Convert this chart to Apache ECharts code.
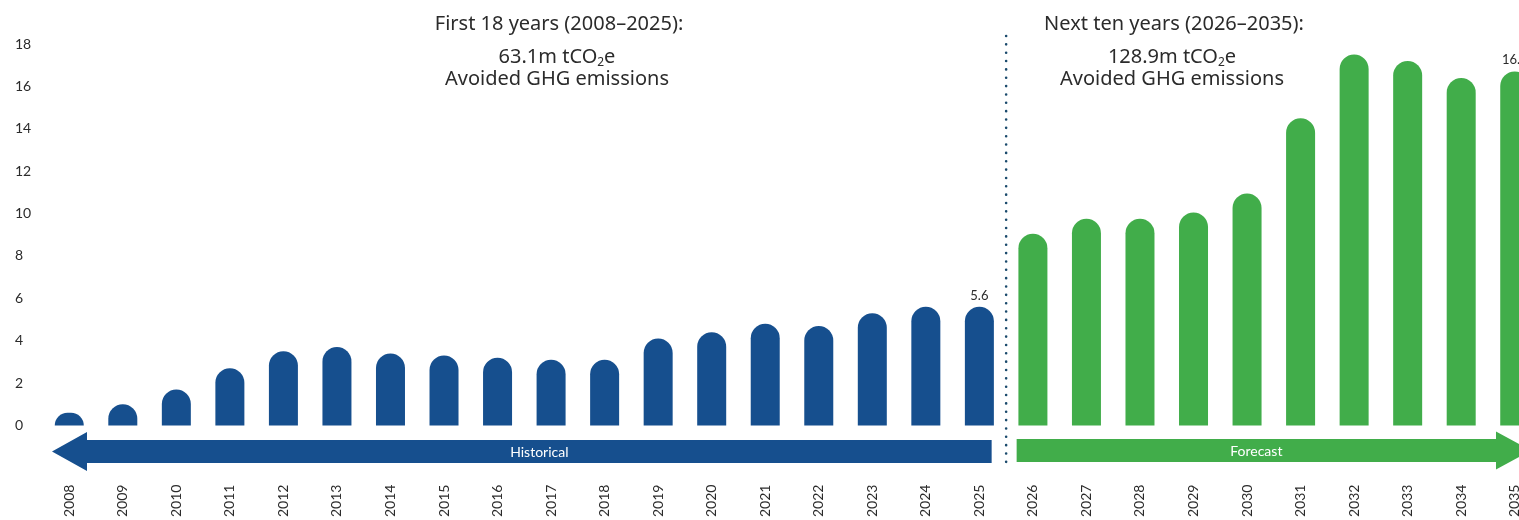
<!DOCTYPE html>
<html>
<head>
<meta charset="utf-8">
<script src="https://cdn.jsdelivr.net/npm/echarts@6/dist/echarts.min.js"></script>
<style>
  html, body { margin: 0; padding: 0; background: #fff; overflow: hidden; }
  #chart { width: 1560px; height: 520px; }
</style>
</head>
<body>
<div id="chart"></div>
<script>
// Avoided GHG emissions per year (m tCO2e)
const histYears = ['2008','2009','2010','2011','2012','2013','2014','2015','2016','2017','2018','2019','2020','2021','2022','2023','2024','2025'];
const histValues = [0.6, 1.0, 1.7, 2.7, 3.5, 3.7, 3.4, 3.3, 3.2, 3.1, 3.1, 4.1, 4.4, 4.8, 4.7, 5.3, 5.6, 5.6];
const foreYears = ['2026','2027','2028','2029','2030','2031','2032','2033','2034','2035'];
const foreValues = [9.05, 9.75, 9.75, 10.05, 10.95, 14.5, 17.5, 17.2, 16.4, 16.7];
const yTicks = [0, 2, 4, 6, 8, 10, 12, 14, 16, 18];
const labelledYears = ['2025', '2035'];

const BLUE = '#164f8e';
const GREEN = '#41ad4a';
const TEXT = '#2b2b2b';
const FONT = 'Lato, "Noto Sans", sans-serif';
const HEAD_FONT = '"Noto Sans", Lato, sans-serif';
const HEAD_SIZE = 20;

const years = histYears.concat(foreYears);
const barData = years.map((y, i) => {
  const isHist = i < histYears.length;
  const v = isHist ? histValues[i] : foreValues[i - histYears.length];
  return {
    value: v,
    itemStyle: { color: isHist ? BLUE : GREEN },
    label: { show: labelledYears.includes(y) }
  };
});

const chart = echarts.init(document.getElementById('chart'), null, { renderer: 'canvas' });

chart.setOption({
  animation: false,
  backgroundColor: '#fff',
  grid: { left: 42.5, top: 44, width: 1499, bottom: 93, containLabel: false },
  xAxis: {
    type: 'category',
    data: years,
    axisLine: { show: false },
    axisTick: { show: false },
    axisLabel: {
      rotate: 90, margin: 59, interval: 0,
      fontSize: 14, fontFamily: FONT, color: TEXT
    }
  },
  yAxis: {
    type: 'value',
    min: yTicks[0], max: yTicks[yTicks.length - 1], interval: yTicks[1] - yTicks[0],
    splitLine: { show: false },
    axisLine: { show: false },
    axisTick: { show: false },
    axisLabel: {
      align: 'left', margin: 27.5, padding: [0, 0, 8, 0],
      fontSize: 14, fontFamily: FONT, color: TEXT
    }
  },
  series: [{
    type: 'bar',
    data: barData,
    barWidth: 29,
    itemStyle: { borderRadius: [14.5, 14.5, 0, 0] },
    label: {
      position: 'top', distance: 5,
      fontSize: 13, fontFamily: FONT, color: TEXT
    }
  }]
});

// Decorations placed from the category scale
const px = (cat) => chart.convertToPixel({ xAxisIndex: 0 }, cat);
const band = px(years[1]) - px(years[0]);
const leftEdge = px(years[0]) - band / 2;
const splitX = (px(histYears[histYears.length - 1]) + px(foreYears[0])) / 2;
const rightEdge = px(years[years.length - 1]) + band / 2;

const HEAD_LEN = 35;

function arrowLeft(x0, x1, cy) {
  // tip on the left
  return [[x0, cy], [x0 + HEAD_LEN, cy - 19.5], [x0 + HEAD_LEN, cy - 11.5], [x1, cy - 11.5],
          [x1, cy + 11.5], [x0 + HEAD_LEN, cy + 11.5], [x0 + HEAD_LEN, cy + 19.5]];
}
function arrowRight(x0, x1, cy) {
  // tip on the right
  return [[x1, cy], [x1 - HEAD_LEN, cy - 19], [x1 - HEAD_LEN, cy - 11.5], [x0, cy - 11.5],
          [x0, cy + 11.5], [x1 - HEAD_LEN, cy + 11.5], [x1 - HEAD_LEN, cy + 19]];
}

const histStart = leftEdge + 9.5, histEnd = splitX - 14.5;
const foreStart = splitX + 10.5, foreEnd = rightEdge - 10.5;

const richSub = {
  a: { fontSize: HEAD_SIZE, fontFamily: HEAD_FONT, fill: TEXT },
  s: { fontSize: 12, fontFamily: HEAD_FONT, fill: TEXT, padding: [12, 0, 0, 0] }
};

function heading(cx, title, amount) {
  return [
    { type: 'text', x: cx, y: 24, style: { text: title, align: 'center', verticalAlign: 'middle', fontSize: HEAD_SIZE, fontFamily: HEAD_FONT, fill: TEXT } },
    { type: 'text', x: cx - 2, y: 57, style: { text: '{a|' + amount + ' tCO}{s|2}{a|e}', align: 'center', verticalAlign: 'middle', rich: richSub } },
    { type: 'text', x: cx - 2, y: 79, style: { text: 'Avoided GHG emissions', align: 'center', verticalAlign: 'middle', fontSize: HEAD_SIZE, fontFamily: HEAD_FONT, fill: TEXT } }
  ];
}

chart.setOption({
  graphic: [
    { type: 'line', shape: { x1: splitX, y1: 36, x2: splitX, y2: 466 },
      style: { stroke: '#1a4a6c', lineWidth: 2.6, lineDash: [0, 8.35], lineCap: 'round' } },
    { type: 'polygon', shape: { points: arrowLeft(histStart, histEnd, 451.5) }, style: { fill: BLUE } },
    { type: 'text', x: (histStart + HEAD_LEN + histEnd) / 2, y: 452,
      style: { text: 'Historical', align: 'center', verticalAlign: 'middle', fontSize: 14, fontFamily: FONT, fill: '#fff' } },
    { type: 'polygon', shape: { points: arrowRight(foreStart, foreEnd, 450.5) }, style: { fill: GREEN } },
    { type: 'text', x: (foreStart + foreEnd - HEAD_LEN) / 2, y: 451,
      style: { text: 'Forecast', align: 'center', verticalAlign: 'middle', fontSize: 14, fontFamily: FONT, fill: '#fff' } }
  ].concat(
    heading(559, 'First 18 years (2008–2025):', '63.1m'),
    heading(1174, 'Next ten years (2026–2035):', '128.9m')
  )
});
</script>
</body>
</html>
